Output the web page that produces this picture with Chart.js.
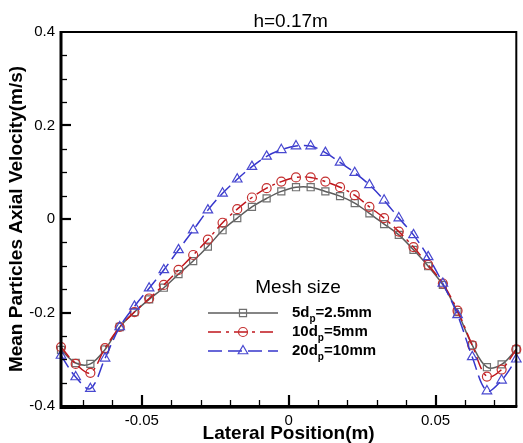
<!DOCTYPE html>
<html><head><meta charset="utf-8">
<script src="https://cdn.jsdelivr.net/npm/chart.js@4.4.0/dist/chart.umd.min.js"></script>
<style>html,body{margin:0;padding:0;background:#fff;}canvas{display:block;}</style>
</head><body>
<canvas id="c" width="523" height="443"></canvas>
<script>
// ---- data ----
const xPositions = [-0.0775,-0.0725,-0.0675,-0.0625,-0.0575,-0.0525,-0.0475,-0.0425,-0.0375,-0.0325,-0.0275,-0.0225,-0.0175,-0.0125,-0.0075,-0.0025,
  0.0025,0.0075,0.0125,0.0175,0.0225,0.0275,0.0325,0.0375,0.0425,0.0475,0.0525,0.0575,0.0625,0.0675,0.0725,0.0775];
const mesh5dp = [-0.280,-0.308,-0.310,-0.279,-0.231,-0.199,-0.172,-0.147,-0.118,-0.090,-0.059,-0.024,0.002,0.026,0.044,0.059,
  0.068,0.068,0.059,0.049,0.034,0.012,-0.011,-0.034,-0.066,-0.101,-0.141,-0.199,-0.270,-0.317,-0.311,-0.279];
const mesh10dp = [-0.274,-0.310,-0.329,-0.276,-0.231,-0.199,-0.170,-0.141,-0.109,-0.077,-0.044,-0.008,0.021,0.046,0.066,0.080,
  0.089,0.089,0.080,0.068,0.051,0.026,0.002,-0.027,-0.060,-0.098,-0.138,-0.196,-0.270,-0.337,-0.322,-0.279];
const mesh20dp = [-0.292,-0.338,-0.363,-0.298,-0.231,-0.187,-0.148,-0.109,-0.066,-0.024,0.019,0.055,0.085,0.112,0.134,0.148,
  0.156,0.156,0.142,0.121,0.099,0.073,0.040,0.002,-0.034,-0.081,-0.138,-0.205,-0.295,-0.368,-0.345,-0.300];
const seriesLabels = [["5d","p","=2.5mm"],["10d","p","=5mm"],["20d","p","=10mm"]];
const legendTitle = "Mesh size";
const chartTitle = "h=0.17m";
const xTitle = "Lateral Position(m)";
const yTitle = "Mean Particles Axial Velocity(m/s)";
const xTickValues = [-0.05, 0, 0.05];
const xTickLabels = ["-0.05", "0", "0.05"];
const yTickLabels = ["-0.4", "-0.2", "0", "0.2", "0.4"];

const FONT = "Arial, 'Liberation Sans', Helvetica, sans-serif";

const styles = [
  {color:'#5c5c5c', pcolor:'#707070', dash:[], pointStyle:'rect', radius:5},
  {color:'#c0161c', pcolor:'#c43030', dash:[13,5,3,5], pointStyle:'circle', radius:4.5},
  {color:'#3636cc', pcolor:'#4848d0', dash:[14,6], pointStyle:'triangle', radius:5.5}
];
const series = [mesh5dp, mesh10dp, mesh20dp];

const datasets = series.map((vals, i) => ({
  label: seriesLabels[i].join(''),
  data: xPositions.map((x, k) => ({x: x, y: vals[k]})),
  borderColor: styles[i].color,
  borderWidth: 1.5,
  borderDash: styles[i].dash,
  pointStyle: styles[i].pointStyle,
  pointRadius: styles[i].radius,
  pointBorderColor: styles[i].pcolor,
  pointBackgroundColor: 'rgba(0,0,0,0)',
  pointBorderWidth: 1.2,
  tension: 0.35,
  clip: false,
  order: 3 - i
}));

const decor = {
  id: 'decor',
  afterDatasetsDraw(chart) {
    const {ctx, chartArea: a, scales: {x, y}} = chart;
    ctx.save();
    ctx.strokeStyle = '#000';
    ctx.lineCap = 'butt';
    ctx.lineWidth = 1.3;
    for (let i = -7; i <= 7; i++) {
      if (i % 5 === 0) continue;
      const px = Math.round(x.getPixelForValue(i / 100)) + 0.5;
      ctx.beginPath(); ctx.moveTo(px, a.bottom); ctx.lineTo(px, a.bottom - 6); ctx.stroke();
    }
    ctx.lineWidth = 2.2;
    xTickValues.forEach(v => {
      const px = Math.round(x.getPixelForValue(v));
      ctx.beginPath(); ctx.moveTo(px, a.bottom); ctx.lineTo(px, a.bottom - 11); ctx.stroke();
    });
    ctx.lineWidth = 1.3;
    for (let i = -7; i <= 7; i++) {
      if (i % 4 === 0) continue;
      const py = Math.round(y.getPixelForValue(i * 0.05)) + 0.5;
      ctx.beginPath(); ctx.moveTo(a.left, py); ctx.lineTo(a.left + 6, py); ctx.stroke();
    }
    ctx.lineWidth = 2.2;
    [-0.2, 0, 0.2].forEach(v => {
      const py = Math.round(y.getPixelForValue(v));
      ctx.beginPath(); ctx.moveTo(a.left, py); ctx.lineTo(a.left + 10, py); ctx.stroke();
    });
    ctx.lineWidth = 2;
    ctx.strokeRect(a.left, a.top, a.right - a.left, a.bottom - a.top);
    ctx.lineWidth = 3;
    ctx.beginPath(); ctx.moveTo(a.left, a.top - 1); ctx.lineTo(a.left, a.bottom + 1.5); ctx.lineTo(a.right + 1, a.bottom + 0.5); ctx.stroke();
    ctx.restore();
  },
  afterDraw(chart) {
    const {ctx, chartArea: a} = chart;
    ctx.save();
    ctx.fillStyle = '#000';
    ctx.font = `19px ${FONT}`;
    ctx.textAlign = 'center';
    ctx.textBaseline = 'middle';
    ctx.fillText(chartTitle, (a.left + a.right) / 2 + 2, 22);
    ctx.fillText(legendTitle, 298, 288);
    const rows = [313, 332, 351];
    seriesLabels.forEach((parts, i) => {
      const st = styles[i];
      const yy = rows[i];
      ctx.save();
      ctx.strokeStyle = st.color;
      ctx.lineWidth = 1.5;
      ctx.setLineDash(st.dash);
      ctx.beginPath(); ctx.moveTo(208, yy); ctx.lineTo(278, yy); ctx.stroke();
      ctx.setLineDash([]);
      ctx.strokeStyle = st.pcolor;
      ctx.fillStyle = 'rgba(0,0,0,0)';
      ctx.lineWidth = 1.2;
      Chart.helpers.drawPoint(ctx, {pointStyle: st.pointStyle, radius: st.radius, rotation: 0, borderWidth: 1.2}, 243, yy);
      ctx.restore();
      ctx.fillStyle = '#000';
      ctx.textAlign = 'left';
      ctx.textBaseline = 'middle';
      ctx.font = `bold 15px ${FONT}`;
      let tx = 292;
      ctx.fillText(parts[0], tx, yy); tx += ctx.measureText(parts[0]).width;
      ctx.font = `bold 10px ${FONT}`;
      ctx.fillText(parts[1], tx, yy + 6); tx += ctx.measureText(parts[1]).width;
      ctx.font = `bold 15px ${FONT}`;
      ctx.fillText(parts[2], tx, yy);
    });
    ctx.restore();
  }
};

new Chart(document.getElementById('c'), {
  type: 'line',
  data: {datasets},
  options: {
    responsive: false,
    animation: false,
    devicePixelRatio: 1,
    layout: {padding: {left: 0, right: 4, top: 32, bottom: 0}},
    plugins: {legend: {display: false}, title: {display: false}, tooltip: {enabled: false}},
    scales: {
      x: {
        type: 'linear', min: -0.0775, max: 0.0775,
        grid: {display: false, drawTicks: false},
        border: {display: false},
        afterBuildTicks: s => { s.ticks = xTickValues.map(v => ({value: v})); },
        afterFit: s => { s.height = 37; },
        ticks: {
          padding: 6, color: '#000', font: {family: FONT, size: 15}, maxRotation: 0,
          callback: (v) => xTickLabels[xTickValues.findIndex(t => Math.abs(t - v) < 1e-9)]
        },
        title: {display: true, text: xTitle, color: '#000', font: {family: FONT, size: 19, weight: 'bold', lineHeight: 1}, padding: 0}
      },
      y: {
        type: 'linear', min: -0.4, max: 0.4,
        grid: {display: false, drawTicks: false},
        border: {display: false},
        afterFit: s => { s.width = 61; },
        ticks: {
          stepSize: 0.2, padding: 6, color: '#000', font: {family: FONT, size: 15},
          callback: (v) => yTickLabels[Math.round((v + 0.4) / 0.2)]
        },
        title: {display: true, text: yTitle, color: '#000', font: {family: FONT, size: 19, weight: 'bold', lineHeight: 1}, padding: {top: 7, bottom: 0}}
      }
    }
  },
  plugins: [decor]
});
</script>
</body></html>
